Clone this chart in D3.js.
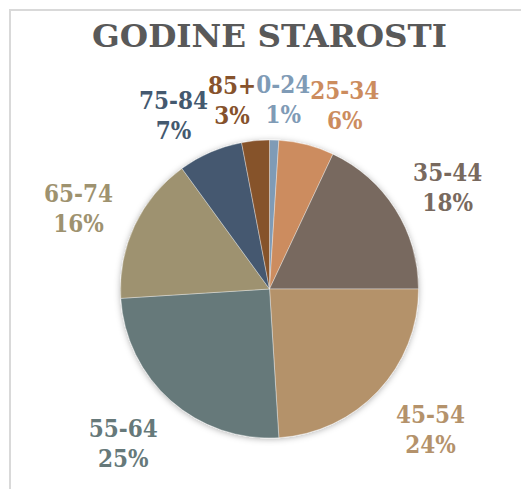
<!DOCTYPE html>
<html>
<head>
<meta charset="utf-8">
<script src="https://cdn.jsdelivr.net/npm/d3@7"></script>
<style>
  html, body { margin: 0; padding: 0; background: #fff; }
  svg { display: block; }
  .lbl { font-family: "DejaVu Serif", Cambria, serif; font-weight: bold; font-stretch: condensed; }
</style>
</head>
<body>
<div id="svg-container"></div>
<script>
// age groups and their share (%)
var categories = ["0-24", "25-34", "35-44", "45-54", "55-64", "65-74", "75-84", "85+"];
var values = [1, 6, 18, 24, 25, 16, 7, 3];
var colors = ["#7f9bb6", "#cc8c5e", "#78695e", "#b4926b", "#66797a", "#9e926f", "#44596f", "#86522c"];
var title = "GODINE STAROSTI";

var width = 521, height = 489;
var cx = 269.5, cy = 289, radius = 149;

var svg = d3.select("#svg-container").append("svg")
	.attr("width", width)
	.attr("height", height);

// chart frame (only top/left edges fall inside the picture)
svg.append("rect")
	.attr("x", 10).attr("y", 10)
	.attr("width", 700).attr("height", 700)
	.attr("fill", "none")
	.attr("stroke", "#d9d9d9")
	.attr("stroke-width", 2);

var defs = svg.append("defs");
var f = defs.append("filter").attr("id", "shadow")
	.attr("x", "-20%").attr("y", "-20%").attr("width", "140%").attr("height", "140%");
f.append("feDropShadow")
	.attr("dx", 0).attr("dy", 1)
	.attr("stdDeviation", 3)
	.attr("flood-color", "#000")
	.attr("flood-opacity", 0.3);

svg.append("text")
	.attr("x", cx).attr("y", 47)
	.attr("text-anchor", "middle")
	.attr("font-family", "'DejaVu Serif', Cambria, serif")
	.attr("font-weight", "bold")
	.attr("font-size", 31)
	.attr("textLength", 355)
	.attr("lengthAdjust", "spacingAndGlyphs")
	.attr("fill", "#595959")
	.text(title);

var data = categories.map(function(c, i){ return {name: c, value: values[i], color: colors[i]}; });

var pie = d3.pie().sort(null).value(function(d){ return d.value; });
var arc = d3.arc().innerRadius(0).outerRadius(radius);
var arcs = pie(data);

var g = svg.append("g").attr("transform", "translate(" + cx + "," + cy + ")");

g.append("g").attr("filter", "url(#shadow)")
	.selectAll("path")
	.data(arcs)
	.enter()
	.append("path")
	.attr("d", arc)
	.attr("fill", function(d){ return d.data.color; })
	.attr("stroke", "#ffffff")
	.attr("stroke-width", 0.6)
	.attr("stroke-opacity", 0.6);

// labels: outside end, on an ellipse around the pie, then pushed apart
var lineGap = 30;
var labels = g.selectAll("g.label")
	.data(arcs)
	.enter()
	.append("g")
	.attr("class", "label");

labels.each(function(d){
	var el = d3.select(this);
	var t = el.append("text")
		.attr("class", "lbl")
		.attr("text-anchor", "middle")
		.attr("font-size", 24)
		.attr("fill", d.data.color);
	t.append("tspan").attr("x", 0).attr("y", -lineGap / 2 + 8).text(d.data.name);
	t.append("tspan").attr("x", 0).attr("y", lineGap / 2 + 8).text(d.data.value + "%");
	var bb = t.node().getBBox();
	var a = (d.startAngle + d.endAngle) / 2;
	var up = Math.cos(a) > 0;
	var ax = radius + (up ? 62 : 72);
	var ay = radius + (up ? 40 : 57);
	d.lx = Math.sin(a) * ax;
	d.ly = -Math.cos(a) * ay;
	d.w = bb.width;
	d.h = bb.height;
});

// simple horizontal relaxation for overlapping boxes
for (var it = 0; it < 60; it++) {
	for (var i = 0; i < arcs.length; i++) {
		for (var j = i + 1; j < arcs.length; j++) {
			var a1 = arcs[i], a2 = arcs[j];
			var ovY = (a1.h + a2.h) / 2 - Math.abs(a1.ly - a2.ly);
			var ovX = (a1.w + a2.w) / 2 - Math.abs(a1.lx - a2.lx);
			if (ovY > 0 && ovX > 0) {
				var s = a1.lx < a2.lx ? -1 : 1;
				a1.lx += s * ovX / 2;
				a2.lx -= s * ovX / 2;
			}
		}
	}
}

labels.attr("transform", function(d){ return "translate(" + d.lx + "," + d.ly + ")"; });
</script>
</body>
</html>
